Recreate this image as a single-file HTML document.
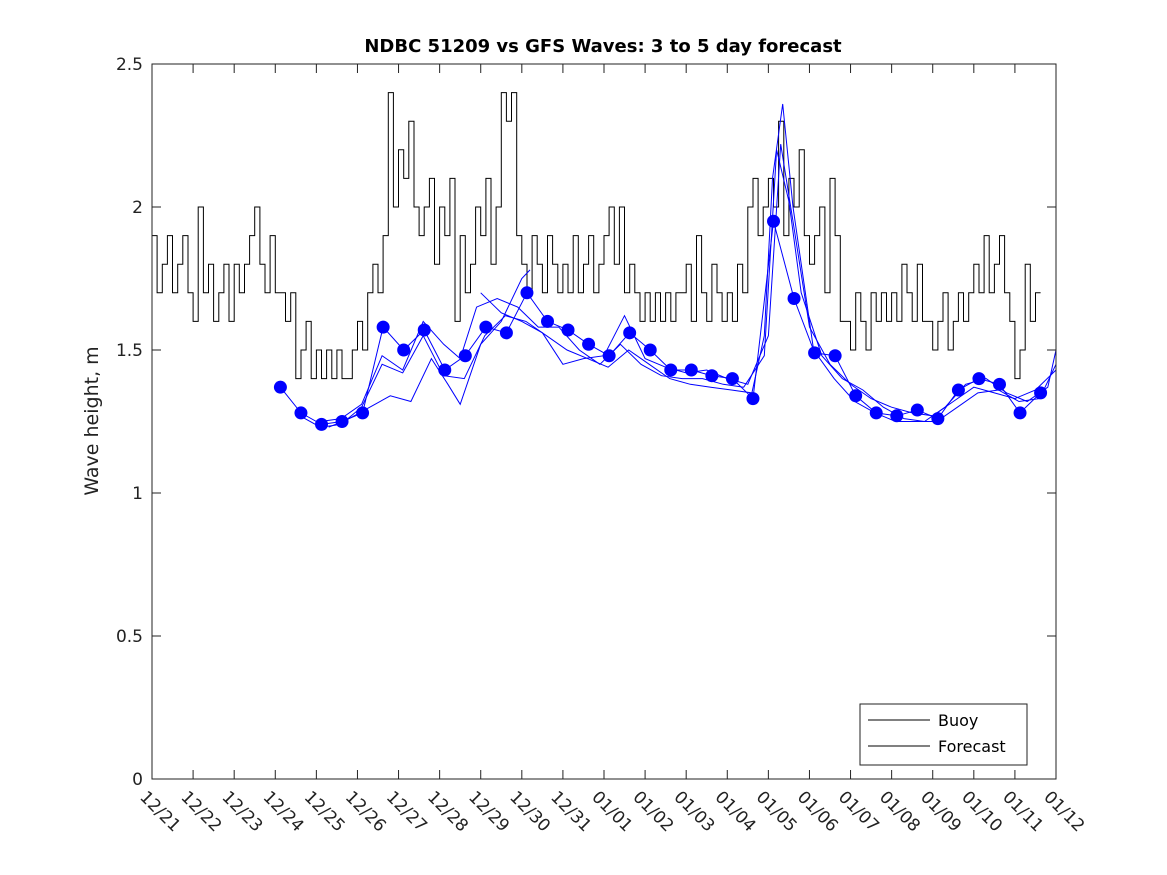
<!DOCTYPE html>
<html><head><meta charset="utf-8"><style>
body{margin:0;background:#fff}
svg{display:block;font-family:"DejaVu Sans","Liberation Sans",sans-serif}
</style></head><body>
<svg id="chart" width="1167" height="875" viewBox="0 0 1167 875" xmlns="http://www.w3.org/2000/svg">
<rect width="1167" height="875" fill="#fff"/>
<text x="603" y="52" text-anchor="middle" font-size="18" font-weight="bold">NDBC 51209 vs GFS Waves: 3 to 5 day forecast</text>
<text transform="translate(98,421) rotate(-90)" text-anchor="middle" font-size="19" fill="#222">Wave height, m</text>
<g id="plot"></g>
<rect x="152" y="64" width="904" height="715" fill="none" stroke="#222" stroke-width="1"/>
<g>
<rect x="860" y="704" width="167" height="61" fill="#fff" stroke="#222"/>
<line x1="868" y1="720" x2="930" y2="720" stroke="#000"/>
<text x="938" y="726" font-size="16">Buoy</text>
<line x1="868" y1="746" x2="930" y2="746" stroke="#000"/>
<text x="938" y="752" font-size="16">Forecast</text>
</g>
</svg>
<script>
const xTickLabels=["12/21","12/22","12/23","12/24","12/25","12/26","12/27","12/28","12/29","12/30","12/31","01/01","01/02","01/03","01/04","01/05","01/06","01/07","01/08","01/09","01/10","01/11","01/12"];
const yTicks=[0,0.5,1,1.5,2,2.5];
const yTickLabels=["0","0.5","1","1.5","2","2.5"];
const buoyStart=0, buoyStep=0.125;
const buoyValues=[
1.9,1.7,1.8,1.9,1.7,1.8,1.9,1.7,
1.6,2.0,1.7,1.8,1.6,1.7,1.8,1.6,
1.8,1.7,1.8,1.9,2.0,1.8,1.7,1.9,
1.7,1.7,1.6,1.7,1.4,1.5,1.6,1.4,
1.5,1.4,1.5,1.4,1.5,1.4,1.4,1.5,
1.6,1.5,1.7,1.8,1.7,1.9,2.4,2.0,
2.2,2.1,2.3,2.0,1.9,2.0,2.1,1.8,
2.0,1.9,2.1,1.6,1.9,1.7,1.8,2.0,
1.9,2.1,1.8,2.0,2.4,2.3,2.4,1.9,
1.8,1.7,1.9,1.8,1.7,1.9,1.8,1.7,
1.8,1.7,1.9,1.7,1.8,1.9,1.7,1.8,
1.9,2.0,1.8,2.0,1.7,1.8,1.7,1.6,
1.7,1.6,1.7,1.6,1.7,1.6,1.7,1.7,
1.8,1.6,1.9,1.7,1.6,1.8,1.7,1.6,
1.7,1.6,1.8,1.7,2.0,2.1,1.9,2.0,
2.1,2.0,2.3,1.9,2.1,2.0,2.2,1.9,
1.8,1.9,2.0,1.7,2.1,1.9,1.6,1.6,
1.5,1.7,1.6,1.5,1.7,1.6,1.7,1.6,
1.7,1.6,1.8,1.7,1.6,1.8,1.6,1.6,
1.5,1.6,1.7,1.5,1.6,1.7,1.6,1.7,
1.8,1.7,1.9,1.7,1.8,1.9,1.7,1.6,
1.4,1.5,1.8,1.6,1.7];
const dotStart=3.125, dotStep=0.5;
const dotValues=[1.37,1.28,1.24,1.25,1.28,1.58,1.50,1.57,1.43,1.48,1.58,1.56,1.70,1.60,1.57,1.52,1.48,1.56,1.50,1.43,1.43,1.41,1.40,1.33,1.95,1.68,1.49,1.48,1.34,1.28,1.27,1.29,1.26,1.36,1.40,1.38,1.28,1.35];
const run1Days=[3.6,4.1,4.6,5.1,5.6,6.1,6.6,7.1,7.6,8.1,8.6,9.1,9.6,10.1,10.6,11.1,11.6,12.1,12.6,13.1,13.6,14.1,14.6,14.9,15.1,15.35,15.6,16.1,16.6,17.1,17.6,18.1,18.6,19.1,19.6,20.1,20.6,21.1,21.6,22];
const run1Vals=[1.27,1.23,1.24,1.30,1.45,1.42,1.55,1.41,1.40,1.55,1.62,1.60,1.55,1.50,1.47,1.44,1.50,1.45,1.40,1.38,1.37,1.36,1.35,1.55,2.10,2.36,2.00,1.50,1.40,1.32,1.28,1.25,1.25,1.25,1.30,1.35,1.36,1.32,1.33,1.45];
const run2Days=[4.1,4.6,5.1,5.6,6.1,6.6,7.1,7.5,7.9,8.4,8.9,9.4,9.9,10.4,10.9,11.4,11.9,12.4,12.9,13.4,13.9,14.4,14.9,15.2,15.5,15.8,16.3,16.8,17.3,17.8,18.3,18.8,19.3,19.8,20.3,20.8,21.3,21.8,22];
const run2Vals=[1.25,1.26,1.31,1.48,1.43,1.60,1.52,1.47,1.65,1.68,1.65,1.58,1.58,1.50,1.45,1.52,1.45,1.41,1.40,1.40,1.38,1.37,1.48,2.20,2.02,1.70,1.48,1.40,1.36,1.30,1.26,1.25,1.30,1.38,1.40,1.35,1.32,1.37,1.50];
const run3Days=[4.3,4.8,5.3,5.8,6.3,6.8,7.2,7.5,8.0,8.5,9.0,9.2];
const run3Vals=[1.23,1.26,1.30,1.34,1.32,1.47,1.38,1.31,1.52,1.60,1.75,1.78];
const run4Days=[8.0,8.5,9.0,9.5,10.0,10.5,11.0,11.5,12.0,12.5,13.0,13.5,14.0,14.5,15.0,15.3,15.6,16.0,16.5,17.0,17.5,18.0,18.5,19.0,19.5,20.0,20.5,21.0,21.5,22];
const run4Vals=[1.70,1.63,1.60,1.56,1.45,1.47,1.48,1.62,1.47,1.44,1.42,1.43,1.40,1.38,1.55,2.22,1.95,1.58,1.45,1.38,1.33,1.30,1.28,1.27,1.32,1.37,1.35,1.33,1.36,1.43];
const X0=152,X1=1056,Y0=779,Y1=64;
function xs(d){return X0+(X1-X0)*d/22;}
function ys(v){return Y0-(Y0-Y1)*v/2.5;}
const NS="http://www.w3.org/2000/svg";
const plot=document.getElementById('plot');
function mk(tag,attrs){const e=document.createElementNS(NS,tag);for(const k in attrs)e.setAttribute(k,attrs[k]);plot.appendChild(e);return e;}
xTickLabels.forEach((lab,i)=>{const x=xs(i);
 const t1=mk('line',{x1:x,y1:Y0,x2:x,y2:Y0-9,stroke:'#222'});
 
 
 const t2=mk('line',{x1:x,y1:Y1,x2:x,y2:Y1+9,stroke:'#222'});
 
 
 const tx=mk('text',{transform:`translate(${x-13},${Y0+19}) rotate(45)`,'font-size':17,fill:'#222'});
 tx.textContent=lab;
 
 
});
yTicks.forEach((v,i)=>{const y=ys(v);
 const t1=mk('line',{x1:X0,y1:y,x2:X0+9,y2:y,stroke:'#222'});
 
 
 const t2=mk('line',{x1:X1,y1:y,x2:X1-9,y2:y,stroke:'#222'});
 
 
 const tx=mk('text',{x:X0-9,y:y+6,'text-anchor':'end','font-size':17,fill:'#222'});
 tx.textContent=yTickLabels[i];
 
 
});
let p='';buoyValues.forEach((v,i)=>{const a=xs(buoyStart+i*buoyStep),b=xs(buoyStart+(i+1)*buoyStep);p+=(i?'L':'M')+a.toFixed(1)+','+ys(v).toFixed(1)+'L'+b.toFixed(1)+','+ys(v).toFixed(1);});
const bl=mk('path',{d:p,fill:'none',stroke:'#000','stroke-width':1});


[[run1Days,run1Vals],[run2Days,run2Vals],[run3Days,run3Vals],[run4Days,run4Vals]].forEach((r,k)=>{
 const pts=r[0].map((d,i)=>xs(d).toFixed(1)+','+ys(r[1][i]).toFixed(1)).join(' ');
 const l=mk('polyline',{points:pts,fill:'none',stroke:'#0000ff','stroke-width':1});
 
 
});
const dp=dotValues.map((v,i)=>xs(dotStart+i*dotStep).toFixed(1)+','+ys(v).toFixed(1)).join(' ');
const dl=mk('polyline',{points:dp,fill:'none',stroke:'#0000ff','stroke-width':1});


dotValues.forEach((v,i)=>{
 const c=mk('circle',{cx:xs(dotStart+i*dotStep),cy:ys(v),r:6.5,fill:'#0000ff'});
 
 
});
</script>
</body></html>
